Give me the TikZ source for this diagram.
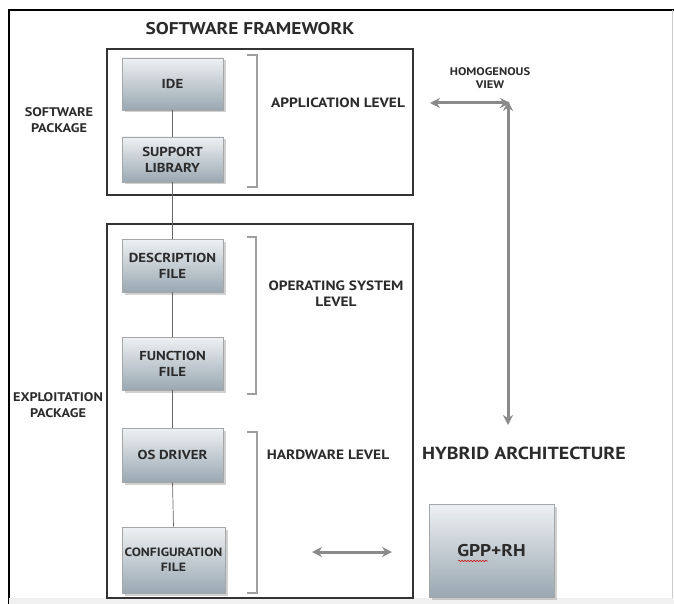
\documentclass[tikz,border=0pt]{standalone}
\usepackage{fontspec}
\setmainfont{PT Sans}[FakeStretch=1.14]
\usetikzlibrary{shadows,arrows.meta,decorations.pathmorphing}
\definecolor{txt}{HTML}{2B2B2B}
\definecolor{boxtop}{HTML}{EEF1F3}
\definecolor{boxbot}{HTML}{9AA8B2}
\definecolor{arr}{HTML}{8A8A8A}
\tikzset{
  x=1pt, y=-1pt,
  lbl/.style={font=\bfseries\fontsize{#1}{#1}\selectfont, text=txt, align=center, inner sep=0pt},
  lbl/.default=13,
  stepbox/.style={draw=gray!70, line width=0.6pt, top color=boxtop, bottom color=boxbot,
     minimum width=101pt, inner sep=0pt, align=center, text=txt,
     font=\bfseries\fontsize{13}{16}\selectfont,
     drop shadow={shadow xshift=2.5pt, shadow yshift=-2.5pt, opacity=0.45, fill=gray!80}},
  container/.style={draw=black!80, line width=1.1pt, fill=white},
  brk/.style={draw=gray!75, line width=1.1pt},
  conn/.style={draw=gray!80!black, line width=0.7pt},
  garrow/.style={draw=arr, line width=3pt, {Stealth[length=10pt,width=10pt]}-{Stealth[length=10pt,width=10pt]}},
}
\begin{document}
\begin{tikzpicture}
\useasboundingbox (0,0) rectangle (674,604);
\fill[white] (0,0) rectangle (674,604);
% outer frame
\draw[black, line width=1.3pt] (9,604) -- (9,10) -- (674,10);
\draw[gray!40, line width=0.8pt] (672,10) -- (672,598);
\fill[gray!12] (9,598) rectangle (674,604);

% containers
\draw[container] (107,49) rectangle (413,195);
\draw[container] (107,224) rectangle (413,598);

% title
\node[lbl=17] (title) at (250,29) {SOFTWARE FRAMEWORK};

% side labels
\node[lbl=12.5, font=\bfseries\fontsize{12.5}{15.5}\selectfont] (swpkg) at (59,120) {SOFTWARE\\PACKAGE};
\node[lbl=12.5, font=\bfseries\fontsize{12.5}{15.5}\selectfont] (exppkg) at (58,405) {EXPLOITATION\\PACKAGE};

% boxes
\node[stepbox, minimum height=52pt] (ide) at (172.5,84) {IDE};
\node[stepbox, minimum height=45pt] (sup) at (172.5,159.5) {SUPPORT\\LIBRARY};
\node[stepbox, minimum height=53pt] (desc) at (172.5,265.5) {DESCRIPTION\\FILE};
\node[stepbox, minimum height=53pt] (func) at (172.5,363.5) {FUNCTION\\FILE};
\node[stepbox, minimum height=54pt] (osd) at (172.5,455) {OS DRIVER};
\node[stepbox, minimum height=66pt, minimum width=103pt, font=\bfseries\fontsize{12}{15}\selectfont] (conf) at (173.5,560) {CONFIGURATION\\FILE};

% connectors
\draw[conn] (ide.south) -- (sup.north);
\draw[conn] (sup.south) -- (desc.north);
\draw[conn] (desc.south) -- (func.north);
\draw[conn] (func.south) -- (osd.north);
\draw[conn] (osd.south) -- (conf.north);

% brackets
\draw[brk] (247,55) -- (257,55) -- (257,187) -- (247,187);
\draw[brk] (247,237) -- (256,237) -- (256,394) -- (247,394);
\draw[brk] (247,432) -- (257,432) -- (257,593) -- (247,593);

% level labels
\node[lbl=13.5] (app) at (338,103) {APPLICATION LEVEL};
\node[lbl=13.5, font=\bfseries\fontsize{13.5}{16}\selectfont] (osl) at (336,294) {OPERATING SYSTEM\\LEVEL};
\node[lbl=13.5] (hwl) at (328,455) {HARDWARE LEVEL};

% right side
\node[lbl=11, font=\bfseries\fontsize{11}{13}\selectfont] (homo) at (490,78) {HOMOGENOUS\\VIEW};
\node[lbl=17.5] (hyb) at (524,453) {HYBRID ARCHITECTURE};
\node[stepbox, minimum width=125pt, minimum height=93pt, font=\bfseries\fontsize{17}{20}\selectfont] (gpp) at (491.5,550.5) {GPP+RH};

% arrows
\coordinate (hL) at (430,103);
\coordinate (hR) at (510,103);
\coordinate (vT) at (508,101);
\coordinate (vB) at (508,425);
\coordinate (sL) at (312,552);
\coordinate (sR) at (392,552);
\draw[garrow] (hL) -- (hR);
\draw[garrow] (vT) -- (vB);
\draw[garrow] (sL) -- (sR);

% spell-check squiggle
\draw[red!80!black, line width=0.5pt, decorate, decoration={snake, amplitude=0.7pt, segment length=3pt}] (458,561) -- (488,561);
\end{tikzpicture}
\end{document}
